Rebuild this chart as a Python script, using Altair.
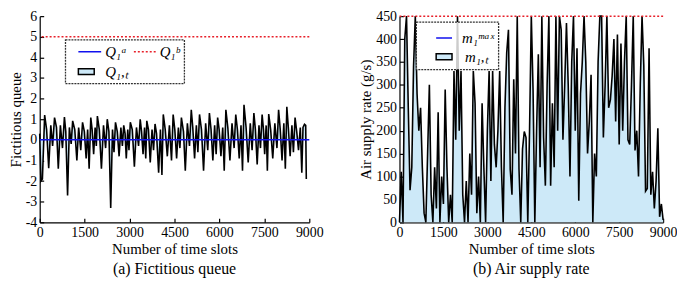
import altair as alt
import pandas as pd

# ---------------- data ----------------
# (a) Fictitious queue Q_{1,t}
q_slot = [0, 40, 90,
          165, 230, 300, 370, 430, 495, 560, 620, 690, 760,
          825, 870, 930, 990, 1050, 1100, 1170, 1240, 1300, 1370,
          1430, 1490, 1550, 1600, 1650, 1705, 1750, 1800, 1850, 1890,
          1925, 1990, 2060, 2130, 2200, 2255, 2310, 2370, 2430, 2480,
          2530, 2590, 2650, 2710, 2760, 2805, 2850, 2890, 2940, 2980,
          3025, 3090, 3160, 3230, 3300, 3355, 3400, 3450, 3500, 3540,
          3575, 3630, 3690, 3750, 3800, 3850, 3900, 3970, 4030, 4080,
          4125, 4190, 4260, 4330, 4400, 4455, 4510, 4570, 4630, 4680,
          4730, 4800, 4860, 4930, 5000, 5060, 5110, 5170, 5230, 5280,
          5335, 5400, 5470, 5540, 5610, 5665, 5720, 5780, 5840, 5890,
          5940, 5990, 6050, 6110, 6160, 6215, 6280, 6350, 6420, 6490,
          6545, 6600, 6660, 6720, 6770, 6820, 6890, 6960, 7030, 7090,
          7150, 7200, 7260, 7320, 7370, 7425, 7470, 7510, 7560, 7600,
          7645, 7710, 7780, 7850, 7920, 7975, 8030, 8090, 8150, 8200,
          8250, 8300, 8360, 8420, 8470, 8525, 8580, 8640, 8700, 8750,
          8790, 8840, 8880, 8900]
q_val = [0.3, -2.0, -1.9,
         1.2, 0.5, -1.38, 0.7, -0.3, 1.08, 0.6, -1.4, 0.7, -0.4,
         1.1, 0.4, -2.7, 0.6, -0.2, 0.92, 0.5, -1.0, 0.6, -0.5,
         0.85, 0.4, -0.9, 0.5, -1.4, 1.08, 0.5, -0.7, 0.6, -0.3,
         1.15, 0.5, -1.4, 0.7, -0.4, 1.0, 0.4, -3.3, 0.5, -0.6,
         0.85, 0.4, -0.8, 0.6, -0.3, 0.7, 0.3, -0.9, 0.5, -0.5,
         0.85, 0.5, -1.3, 0.6, -0.3, 1.0, 0.4, -0.7, 0.6, -0.9,
         0.92, 0.5, -1.1, 0.5, -0.5, 0.77, 0.3, -1.6, 0.5, -1.7,
         1.23, 0.5, -0.8, 0.7, -1.0, 1.23, 0.5, -0.9, 0.6, -0.4,
         1.08, 0.4, -1.5, 0.8, -0.3, 1.46, 0.6, -0.9, 0.7, -0.6,
         1.23, 0.5, -1.5, 0.8, -0.5, 1.3, 0.5, -1.0, 0.7, -0.7,
         1.08, 0.5, -0.8, 0.6, -1.5, 1.46, 0.6, -1.0, 0.8, -0.4,
         1.23, 0.5, -0.9, 0.7, -1.5, 1.7, 0.6, -1.1, 0.8, -0.5,
         1.3, 0.5, -1.2, 0.7, -0.4, 1.23, 0.5, -0.7, 0.7, -1.5,
         1.25, 0.5, -0.9, 0.8, -0.4, 1.46, 0.5, -1.0, 0.8, -1.4,
         1.6, 0.6, -0.8, 0.7, -0.6, 1.08, 0.4, -0.5, 0.6, -1.6,
         0.6, 0.75, 0.7, -1.9]
Q_A = 0.0   # Q_1^a
Q_B = 5.0   # Q_1^b

# (b) Air supply rate m_{1,t}, one value every 60 time slots
m_val = [0, 110, 0, 400, 450, 250, 70, 120, 340, 450,
         280, 200, 250, 120, 20, 0, 150, 300, 60, 0,
         120, 30, 240, 0, 100, 40, 290, 120, 0, 60,
         0, 330, 180, 450, 200, 330, 60, 0, 90, 0,
         150, 60, 330, 260, 20, 100, 0, 260, 120, 0,
         200, 330, 90, 330, 170, 120, 200, 330, 120, 0,
         250, 370, 420, 116, 60, 312, 150, 450, 116, 0,
         160, 198, 185, 0, 200, 450, 288, 0, 200, 367,
         120, 450, 185, 80, 300, 450, 80, 260, 120, 450,
         200, 450, 420, 180, 300, 435, 300, 100, 350, 450,
         200, 380, 47, 281, 350, 450, 350, 150, 220, 322,
         0, 150, 100, 350, 450, 450, 185, 300, 450, 250,
         267, 320, 400, 220, 410, 170, 390, 200, 350, 450,
         180, 170, 300, 450, 157, 200, 100, 300, 450, 343,
         68, 74, 380, 60, 110, 30, 90, 205, 12, 40,
         5]
m_slot = [i * 60 for i in range(len(m_val))]
M_MAX = 450.0

x_ticks = [0, 1500, 3000, 4500, 6000, 7500, 9000]
q_ticks = [-4, -3, -2, -1, 0, 1, 2, 3, 4, 5, 6]
m_ticks = [0, 50, 100, 150, 200, 250, 300, 350, 400, 450]

# ---------------- styling ----------------
FONT = "Liberation Serif"
FILL = "#cde9f8"
H = 208

q_df = pd.DataFrame({"slot": q_slot, "value": q_val})
m_df = pd.DataFrame({"slot": m_slot, "value": m_val})
one = pd.DataFrame({"k": [0]})

x_axis = alt.Axis(values=x_ticks, labelFlush=False, format="d", labelOverlap=False)
x_scale = alt.Scale(domain=[0, 9000], nice=False)
q_axis = alt.Axis(values=q_ticks, labelExpr="'' + datum.value", labelOverlap=False,
                  tickCount=11)
q_scale = alt.Scale(domain=[-4, 6], nice=False)
m_axis = alt.Axis(values=m_ticks, labelOverlap=False, tickCount=10)
m_scale = alt.Scale(domain=[0, 450], nice=False)


def legend(box, items):
    x0, x1, y0, y1 = box
    layers = [alt.Chart(one).mark_rect(fill="white", fillOpacity=0.8, stroke="#333",
                                       strokeDash=[2, 1], strokeWidth=1.3)
              .encode(x=alt.value(x0), x2=alt.value(x1), y=alt.value(y0), y2=alt.value(y1))]
    for kind, xa, xb, y, label, tx in items:
        if kind == "rect":
            layers.append(alt.Chart(one).mark_rect(fill=FILL, stroke="black", strokeWidth=1.5)
                          .encode(x=alt.value(xa), x2=alt.value(xb),
                                  y=alt.value(y - 3), y2=alt.value(y + 3)))
        else:
            color, dash = kind
            layers.append(alt.Chart(one).mark_rule(color=color, strokeWidth=1.5, strokeDash=dash)
                          .encode(x=alt.value(xa), x2=alt.value(xb), y=alt.value(y)))
        layers.append(alt.Chart(one).mark_text(align="left", baseline="middle", font=FONT,
                                               fontStyle="italic", fontSize=15, text=label)
                      .encode(x=alt.value(tx), y=alt.value(y)))
    return layers


def panel(df, ytitle, yaxis, yscale, rules, legend_layers, title, width):
    xe = alt.X("slot:Q", title="Number of time slots", scale=x_scale, axis=x_axis)
    ye = alt.Y("value:Q", title=ytitle, scale=yscale, axis=yaxis)
    area = alt.Chart(df).mark_area(color=FILL, opacity=1).encode(
        x=xe, y=ye, y2=alt.datum(0))
    line = alt.Chart(df).mark_line(color="black", strokeWidth=1.6).encode(x=xe, y=ye)
    rule_layers = [
        alt.Chart(one).mark_rule(color=c, strokeWidth=1.5, strokeDash=d).encode(
            y=alt.YDatum(v, title=ytitle, scale=yscale, axis=yaxis))
        for v, c, d in rules
    ]
    return alt.layer(area, line, *rule_layers, *legend_layers).properties(
        width=width, height=H,
        title=alt.TitleParams(title, orient="bottom", font=FONT, fontSize=16,
                              fontWeight="normal", offset=5))


left = panel(q_df, "Fictitious queue", q_axis, q_scale,
             [(Q_A, "#1010ee", [1, 0]), (Q_B, "#e8202a", [2, 2])],
             legend((26, 146, 24, 68), [
                 (("#1010ee", [1, 0]), 39, 62, 36, "Q₁ᵃ", 66),
                 (("#e8202a", [2, 2]), 95, 117, 36, "Q₁ᵇ", 121),
                 ("rect", 39, 55, 56, "Q₁,ₜ", 66),
             ]),
             "(a) Fictitious queue", 272)

right = panel(m_df, "Air supply rate (g/s)", m_axis, m_scale,
              [(M_MAX, "#e8202a", [2, 2])],
              legend((17, 100, 6, 54), [
                  (("#1010ee", [1, 0]), 37, 53, 22, "m₁ᵐᵃˣ", 63),
                  ("rect", 37, 53, 41, "m₁,ₜ", 66),
              ]),
              "(b) Air supply rate", 266)

chart = alt.hconcat(left, right, spacing=36).properties(
    padding={"left": 0, "top": 0, "right": 0, "bottom": 0}
).configure_view(stroke=None).configure_axis(
    grid=False, domainColor="black", tickColor="black", labelColor="black",
    titleColor="black", labelFont=FONT, titleFont=FONT, labelFontSize=14,
    titleFontSize=15, titleFontWeight="normal", tickSize={"expr": "-4"},
    labelPadding=7, titlePadding=2, domainWidth=1.2, tickWidth=1.2
).configure_title(color="black")

chart.save("out.html", embed_options={"renderer": "svg", "actions": False})
